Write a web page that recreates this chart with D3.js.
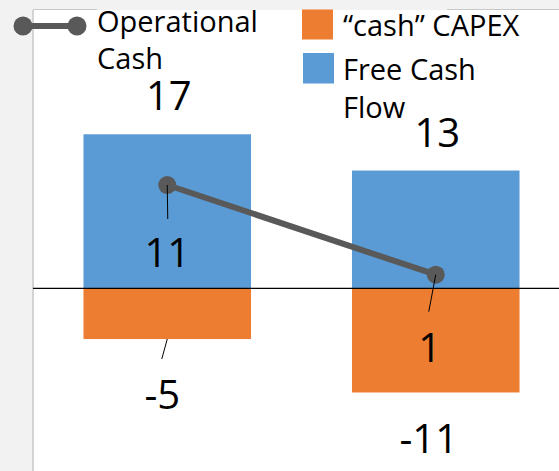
<!DOCTYPE html>
<html>
<head>
<meta charset="utf-8">
<script src="https://cdn.jsdelivr.net/npm/d3@7"></script>
<style>
  html, body { margin: 0; padding: 0; background: #f2f2f2; }
  svg { display: block; font-family: "Open Sans", "Noto Sans", sans-serif; }
</style>
</head>
<body>
<div id="chart"></div>
<script>
// Data
const categories = ['Period 1', 'Period 2'];
const freeCashFlow = [17, 13];
const cashCapex = [-5.6, -11.5];
const operationalCash = [11.4, 1.5];

// label nudges (manually placed labels in the original)
const capexLabelNudge = [{ dx: -5, dy: 70 }, { dx: -7, dy: 61 }];
const opLabelNudge = [{ dx: 0, dy: 82, lx: 0.5, ly: 34 }, { dx: -6, dy: 87, lx: -7, ly: 37 }];

const width = 559;
const height = 471;
const colors = { capex: '#ED7D31', fcf: '#5B9BD5', op: '#595959' };

const svg = d3.select('#chart')
  .append('svg')
  .attr('width', width)
  .attr('height', height)
  .attr('viewBox', `0 0 ${width} ${height}`);

// Panel
svg.append('rect')
  .attr('x', 33).attr('y', 10)
  .attr('width', width - 33).attr('height', height - 10)
  .attr('fill', '#fff');
svg.append('line')
  .attr('x1', 33).attr('x2', 33).attr('y1', 10).attr('y2', height)
  .attr('stroke', '#d4d4d4').attr('stroke-width', 2);
[[33, 97], [447, width]].forEach(([a, b]) => {
  svg.append('line')
    .attr('x1', a).attr('x2', b).attr('y1', 9.5).attr('y2', 9.5)
    .attr('stroke', '#c8c8c8').attr('stroke-width', 1);
});

const x = d3.scaleBand()
  .domain(categories)
  .range([33, 570])
  .paddingInner(0.376)
  .paddingOuter(0.188);

const y = d3.scaleLinear()
  .domain([-20, 20])
  .range([469.5, 107.1]);

const fmt = v => String(Math.trunc(v));
const cx = (d, i) => x(categories[i]) + x.bandwidth() / 2;

// Bars
const g = svg.append('g');

g.selectAll('rect.fcf')
  .data(freeCashFlow)
  .join('rect')
  .attr('class', 'fcf')
  .attr('x', (d, i) => x(categories[i]))
  .attr('width', x.bandwidth())
  .attr('y', d => y(Math.max(0, d)))
  .attr('height', d => Math.abs(y(d) - y(0)))
  .attr('fill', colors.fcf);

g.selectAll('rect.capex')
  .data(cashCapex)
  .join('rect')
  .attr('class', 'capex')
  .attr('x', (d, i) => x(categories[i]))
  .attr('width', x.bandwidth())
  .attr('y', d => y(Math.max(0, d)))
  .attr('height', d => Math.abs(y(d) - y(0)))
  .attr('fill', colors.capex);

// Zero line
g.append('line')
  .attr('x1', 33).attr('x2', width)
  .attr('y1', y(0)).attr('y2', y(0))
  .attr('stroke', '#000').attr('stroke-width', 1.2);

// Leader lines
g.append('line')
  .attr('x1', cx(null, 0)).attr('y1', y(cashCapex[0]))
  .attr('x2', cx(null, 0) - 5.5).attr('y2', y(cashCapex[0]) + 20)
  .attr('stroke', '#000').attr('stroke-width', 1);

// Operational cash line
const line = d3.line()
  .x((d, i) => cx(d, i))
  .y(d => y(d));

g.append('path')
  .datum(operationalCash)
  .attr('d', line)
  .attr('fill', 'none')
  .attr('stroke', colors.op)
  .attr('stroke-width', 6)
  .attr('stroke-linecap', 'round');

g.selectAll('circle.op')
  .data(operationalCash)
  .join('circle')
  .attr('class', 'op')
  .attr('cx', (d, i) => cx(d, i))
  .attr('cy', d => y(d))
  .attr('r', 9)
  .attr('fill', colors.op);

// leader lines for the operational cash labels, drawn over the markers
operationalCash.forEach((v, i) => {
  const n = opLabelNudge[i];
  g.append('line')
    .attr('x1', cx(v, i)).attr('y1', y(v))
    .attr('x2', cx(v, i) + n.lx).attr('y2', y(v) + n.ly)
    .attr('stroke', '#000').attr('stroke-width', 1);
});

// Data labels
const labelSize = '40px';

g.selectAll('text.fcf')
  .data(freeCashFlow)
  .join('text')
  .attr('class', 'fcf')
  .attr('x', (d, i) => cx(d, i) + 1.5)
  .attr('y', d => y(d) - 24)
  .attr('text-anchor', 'middle')
  .attr('font-size', labelSize)
  .attr('fill', '#000')
  .text(fmt);

g.selectAll('text.capex')
  .data(cashCapex)
  .join('text')
  .attr('class', 'capex')
  .attr('x', (d, i) => cx(d, i) + capexLabelNudge[i].dx)
  .attr('y', (d, i) => y(d) + capexLabelNudge[i].dy)
  .attr('text-anchor', 'middle')
  .attr('font-size', labelSize)
  .attr('fill', '#000')
  .text(fmt);

g.selectAll('text.op')
  .data(operationalCash)
  .join('text')
  .attr('class', 'op')
  .attr('x', (d, i) => cx(d, i) + opLabelNudge[i].dx)
  .attr('y', (d, i) => y(d) + opLabelNudge[i].dy)
  .attr('text-anchor', 'middle')
  .attr('font-size', labelSize)
  .attr('fill', '#000')
  .text(fmt);

// Legend
const legend = svg.append('g');
const legendSize = '29px';

legend.append('line')
  .attr('x1', 23).attr('x2', 77).attr('y1', 26).attr('y2', 26)
  .attr('stroke', colors.op).attr('stroke-width', 6);
[23, 77].forEach(px => {
  legend.append('circle')
    .attr('cx', px).attr('cy', 26).attr('r', 9.5)
    .attr('fill', colors.op);
});
legend.append('text')
  .attr('x', 97).attr('y', 32)
  .attr('font-size', legendSize).attr('fill', '#000')
  .selectAll('tspan')
  .data(['Operational', 'Cash'])
  .join('tspan')
  .attr('x', 97)
  .attr('dy', (d, i) => i ? 37 : 0)
  .text(d => d);

legend.append('rect')
  .attr('x', 302).attr('y', 9.5).attr('width', 31).attr('height', 30)
  .attr('fill', colors.capex);
legend.append('text')
  .attr('x', 343).attr('y', 36)
  .attr('font-size', legendSize).attr('fill', '#000')
  .text('\u201ccash\u201d CAPEX');

legend.append('rect')
  .attr('x', 303).attr('y', 53).attr('width', 31).attr('height', 30.5)
  .attr('fill', colors.fcf);
legend.append('text')
  .attr('x', 343).attr('y', 80)
  .attr('font-size', legendSize).attr('fill', '#000')
  .selectAll('tspan')
  .data(['Free Cash', 'Flow'])
  .join('tspan')
  .attr('x', 343)
  .attr('dy', (d, i) => i ? 38 : 0)
  .text(d => d);
</script>
</body>
</html>
